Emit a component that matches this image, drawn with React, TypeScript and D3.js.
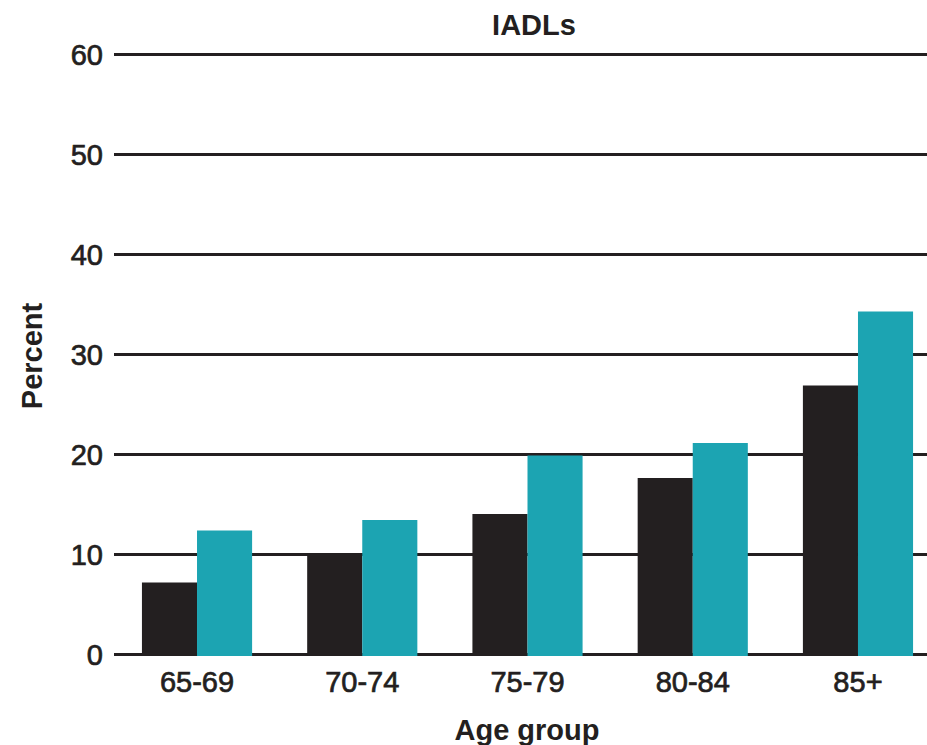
import React from "react";
import * as d3 from "d3";

const categories = ["65-69", "70-74", "75-79", "80-84", "85+"];
const seriesKeys = ["dark", "teal"];
const darkValues = [7.2, 10.15, 14.05, 17.65, 26.9];
const tealValues = [12.4, 13.45, 19.9, 21.15, 34.3];
const yTicks = [0, 10, 20, 30, 40, 50, 60];
const title = "IADLs";
const yLabel = "Percent";
const xLabel = "Age group";

const W = 927;
const H = 745;
const colors: Record<string, string> = { dark: "#231f20", teal: "#1ca4b2" };
const FONT = "'Liberation Sans', Arial, Helvetica, sans-serif";

export default function App() {
  const x = d3
    .scaleBand<string>()
    .domain(categories)
    .range([114.4, 940.6])
    .paddingInner(1 / 3)
    .paddingOuter(1 / 6);
  const xs = d3.scaleBand<string>().domain(seriesKeys).range([0, x.bandwidth()]).padding(0);
  const y = d3.scaleLinear().domain([0, 60]).range([654.5, 54.5]);

  const data = categories.map((c, i) => ({ c, dark: darkValues[i], teal: tealValues[i] }));

  return (
    <svg
      width={W}
      height={H}
      style={{ position: "absolute", left: 0, top: 0, background: "#fff" }}
      fontFamily={FONT}
    >
      <rect x={0} y={0} width={W} height={H} fill="#fff" />
      <text x={534} y={35} textAnchor="middle" fontSize={29} fontWeight="bold" fill="#231f20">
        {title}
      </text>
      {yTicks.map((t) => (
        <g key={t}>
          <line x1={114} x2={W} y1={y(t)} y2={y(t)} stroke="#231f20" strokeWidth={3} />
          <text
            x={103}
            y={y(t) + 10.5}
            textAnchor="end"
            fontSize={29}
            fill="#231f20"
            stroke="#231f20"
            strokeWidth={0.7}
          >
            {t}
          </text>
        </g>
      ))}
      {data.map((d) => (
        <g key={d.c} transform={`translate(${x(d.c)},0)`}>
          {seriesKeys.map((k) => {
            const v = (d as any)[k] as number;
            return (
              <rect
                key={k}
                x={xs(k)}
                y={y(v)}
                width={xs.bandwidth()}
                height={y(0) + 1.5 - y(v)}
                fill={colors[k]}
              />
            );
          })}
          <text
            x={x.bandwidth() / 2}
            y={692}
            textAnchor="middle"
            fontSize={29}
            fill="#231f20"
            stroke="#231f20"
            strokeWidth={0.7}
          >
            {d.c}
          </text>
        </g>
      ))}
      <text
        transform={`translate(42,356) rotate(-90)`}
        textAnchor="middle"
        fontSize={29}
        fontWeight="bold"
        fill="#231f20"
      >
        {yLabel}
      </text>
      <text x={527} y={740} textAnchor="middle" fontSize={29} fontWeight="bold" fill="#231f20">
        {xLabel}
      </text>
    </svg>
  );
}
